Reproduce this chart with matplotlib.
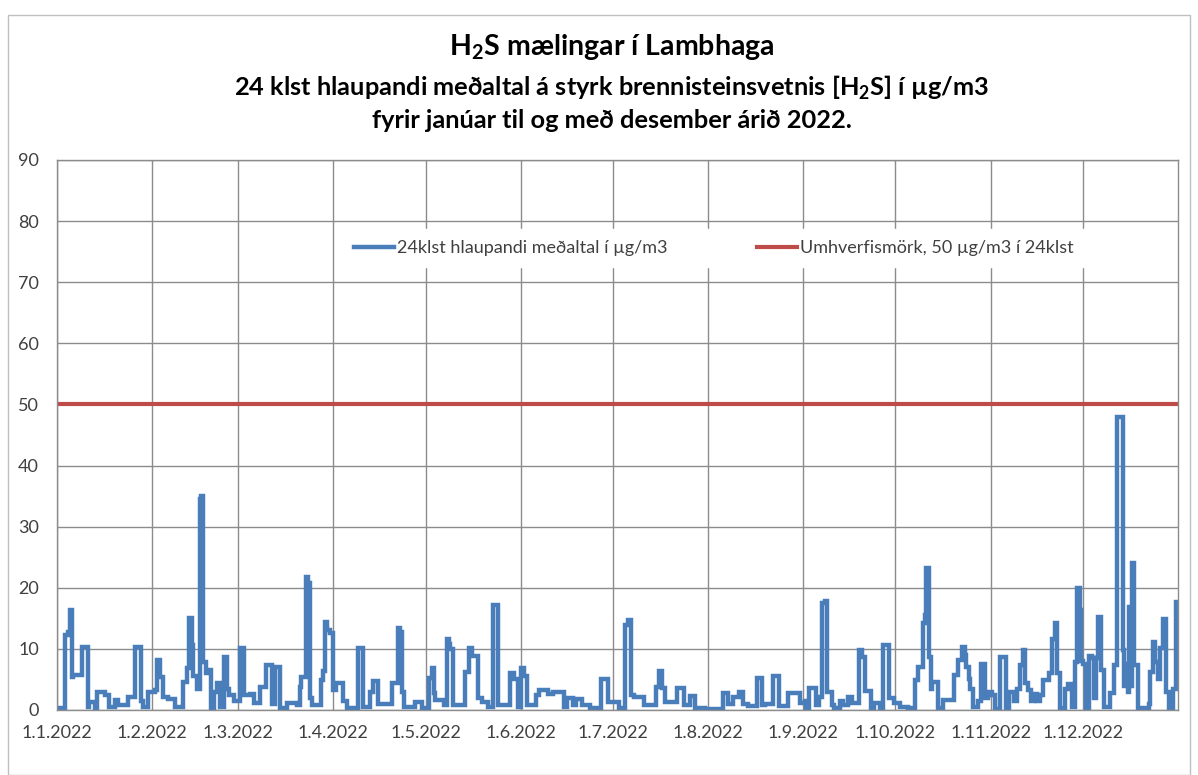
import numpy as np
import pandas as pd
import matplotlib
matplotlib.use("Agg")
import matplotlib.pyplot as plt
from matplotlib.patches import Rectangle

# dagar frá 1.1.2022 þar sem 24 klst meðaltal breytist, og gildið (µg/m3)
dagar = [0, 2.6, 3.6, 4.3, 4.9, 5.3, 8.0, 10.0, 10.3, 12.5, 13.0, 15.5, 17.0, 19.0, 20.0,
         23.0, 25.4, 27.3, 28.0, 29.6, 32.0, 32.6, 33.4, 34.5, 36.0, 38.4, 41.0, 42.3,
         43.0, 43.8, 44.4, 45.6, 46.6, 47.0, 47.6, 48.4, 49.0, 50.0, 51.0, 52.0, 53.0,
         54.4, 55.2, 56.0, 57.5, 59.5, 61.0, 63.0, 64.0, 66.0, 68.0, 70.0, 71.0, 72.6,
         75.0, 78.0, 79.0, 79.6, 81.0, 81.8, 82.4, 83.0, 86.0, 86.6, 87.3, 88.0, 89.0,
         90.0, 91.0, 93.0, 94.5, 98.0, 99.7, 102.0, 103.0, 104.6, 109.0, 111.0, 111.7,
         112.4, 113.0, 116.6, 119.0, 121.0, 122.0, 122.6, 123.0, 126.0, 127.0, 127.6,
         128.0, 129.0, 133.0, 134.0, 135.0, 137.0, 138.5, 140.4, 142.0, 143.6, 147.5,
         148.8, 150.0, 151.0, 152.0, 153.0, 156.0, 157.0, 160.0, 161.6, 165.0, 166.0,
         168.0, 169.0, 171.0, 173.6, 177.0, 179.5, 183.0, 185.0, 186.0, 187.0, 188.0,
         191.0, 195.0, 196.0, 197.0, 198.0, 202.0, 204.0, 206.0, 207.7, 211.0, 217.0,
         218.6, 220.0, 222.0, 223.5, 225.0, 228.0, 229.6, 230.6, 233.0, 235.0, 238.0,
         242.0, 243.5, 244.0, 245.0, 247.0, 248.0, 249.0, 250.0, 250.8, 252.4, 253.0,
         255.0, 256.0, 257.7, 259.0, 261.0, 262.0, 263.0, 265.0, 266.0, 268.0, 269.0,
         271.0, 272.5, 274.6, 277.0, 279.5, 280.5, 282.0, 282.6, 283.0, 283.8, 284.6,
         285.0, 287.0, 288.6, 292.0, 293.5, 294.8, 295.6, 296.0, 296.8, 297.4, 298.4,
         300.0, 301.0, 302.0, 303.0, 304.5, 305.4, 307.0, 309.0, 310.0, 311.5, 312.7,
         313.7, 314.6, 315.3, 316.0, 317.0, 318.0, 319.0, 320.0, 321.0, 323.0, 324.0,
         325.0, 325.7, 326.7, 328.3, 329.3, 330.6, 331.6, 332.2, 333.0, 333.5, 334.0,
         335.0, 336.0, 337.0, 337.6, 338.2, 339.0, 340.0, 341.0, 343.0, 344.0, 345.3,
         347.0, 347.5, 348.0, 348.6, 349.0, 349.7, 350.0, 350.6, 352.0, 355.5, 356.0,
         357.0, 357.6, 358.4, 359.0, 360.0, 361.0, 362.0, 363.5, 364.5, 365.0]
gildi = [0.3, 12.3, 12.8, 16.4, 5.4, 5.7, 10.3, 0.5, 1.3, 0.4, 2.9, 2.5, 0.5, 1.6, 0.8,
         2.1, 10.3, 1.5, 0.5, 2.9, 3.3, 8.2, 5.4, 2.1, 1.8, 0.5, 4.6, 6.9,
         15.0, 10.6, 5.5, 3.5, 34.5, 35.0, 7.9, 6.0, 6.5, 0.3, 3.0, 4.4, 0.5,
         8.7, 3.5, 2.5, 1.5, 10.1, 2.4, 2.6, 1.2, 3.8, 7.4, 1.0, 7.0, 0.3,
         1.2, 0.8, 3.8, 5.4, 21.8, 20.8, 2.0, 0.8, 4.9, 6.4, 14.4, 13.1, 12.6,
         3.3, 4.4, 1.5, 0.3, 10.1, 0.5, 2.9, 4.8, 1.0, 4.4, 13.4, 12.8,
         3.0, 0.5, 1.3, 0.3, 5.2, 6.9, 2.8, 1.6, 0.8, 11.6, 10.8,
         10.0, 0.8, 6.2, 10.1, 8.8, 2.0, 1.3, 0.5, 17.2, 0.8, 6.0,
         5.0, 0.5, 6.9, 5.5, 0.8, 2.4, 3.3, 2.6, 3.0, 0.5, 1.9,
         0.8, 1.8, 0.8, 0.3, 5.1, 1.3, 0.3, 13.9, 14.7, 2.4, 2.1,
         0.8, 3.8, 6.4, 3.6, 1.3, 3.6, 0.8, 2.3, 0.3, 0.1, 2.8,
         1.0, 2.1, 2.9, 1.0, 0.6, 5.2, 0.8, 1.0, 5.6, 0.6, 2.8,
         1.2, 1.5, 0.3, 3.6, 0.8, 2.1, 17.5, 17.8, 2.9, 0.8, 0.3,
         1.5, 0.8, 2.1, 1.2, 9.8, 8.7, 3.1, 0.3, 1.2, 0.3, 10.6,
         2.0, 1.2, 0.5, 0.3, 4.9, 7.0, 14.2, 15.5, 23.2, 8.7, 3.5,
         4.6, 0.3, 1.6, 5.7, 8.2, 10.3, 9.0, 7.0, 5.0, 3.5, 0.5,
         1.5, 7.6, 2.0, 2.9, 2.5, 0.2, 8.7, 0.3, 3.0, 1.5, 3.5,
         7.3, 9.8, 4.4, 3.3, 1.5, 2.6, 1.5, 2.5, 4.9, 6.0, 11.7,
         14.2, 6.0, 0.3, 3.5, 4.3, 0.5, 7.9, 19.9, 16.4, 8.0, 7.6,
         0.3, 8.8, 8.5, 2.0, 8.5, 15.2, 6.5, 0.5, 2.8, 7.4, 47.9,
         9.8, 4.0, 7.5, 3.0, 16.9, 4.0, 24.0, 7.4, 0.3, 1.0, 6.3,
         11.2, 7.9, 5.0, 10.1, 14.9, 3.0, 0.3, 3.5, 17.6, 17.6]
mork = 50

timi = pd.Timestamp("2022-01-01") + pd.to_timedelta(dagar, unit="D")

blar = "#4A7EBB"
raudur = "#BE4B48"
grar = "#8C8C8C"

plt.rcParams["font.family"] = ["Lato", "DejaVu Sans"]

fig = plt.figure(figsize=(11.98, 7.75), dpi=100)
ax = fig.add_axes([57/1198, 1 - 710/775, 1121/1198, 550/775])

ax.plot(timi, gildi, drawstyle="steps-post", color=blar, lw=3.2,
        solid_joinstyle="miter", label="24klst hlaupandi meðaltal í µg/m3")
ax.axhline(mork, color=raudur, lw=3, label="Umhverfismörk, 50 µg/m3 í 24klst")

ax.set_xlim(pd.Timestamp("2022-01-01"), pd.Timestamp("2023-01-01"))
ax.set_ylim(0, 90)
ax.set_yticks(range(0, 91, 10))
manudir = pd.date_range("2022-01-01", "2022-12-01", freq="MS")
ax.set_xticks(manudir)
ax.set_xticklabels([f"{d.day}.{d.month}.{d.year}" for d in manudir])
ax.grid(True, color=grar, lw=1)
ax.set_axisbelow(True)
for s in ax.spines.values():
    s.set_color(grar)
    s.set_linewidth(1)
ax.tick_params(length=0, labelsize=13, colors="#404040")
ax.tick_params(axis="x", pad=11)
ax.tick_params(axis="y", pad=13)

leg = ax.legend(ncol=2, loc="center", bbox_to_anchor=(0.586, 0.84), frameon=True,
                fancybox=False, edgecolor="white", framealpha=1, fontsize=13,
                handlelength=2.2, handletextpad=0.15, columnspacing=5.0,
                borderpad=0.6)
for t in leg.get_texts():
    t.set_color("#404040")

midja = 612 / 1198
fig.text(midja, 1 - 47/775, "H$_\\mathregular{2}$S mælingar í Lambhaga", ha="center", va="center",
         fontsize=20.5, fontweight="bold")
fig.text(midja, 1 - 88/775,
         "24 klst hlaupandi meðaltal á styrk brennisteinsvetnis [H$_\\mathregular{2}$S] í µg/m3",
         ha="center", va="center", fontsize=18.3, fontweight="bold")
fig.text(midja, 1 - 120/775, "fyrir janúar til og með desember árið 2022.", ha="center",
         va="center", fontsize=18.3, fontweight="bold")

fig.patches.append(Rectangle((8/1198, 0), 1182/1198, 1 - 15/775, transform=fig.transFigure,
                             fill=False, edgecolor="#BFBFBF", lw=1))

fig.savefig("out.png", dpi=100)
